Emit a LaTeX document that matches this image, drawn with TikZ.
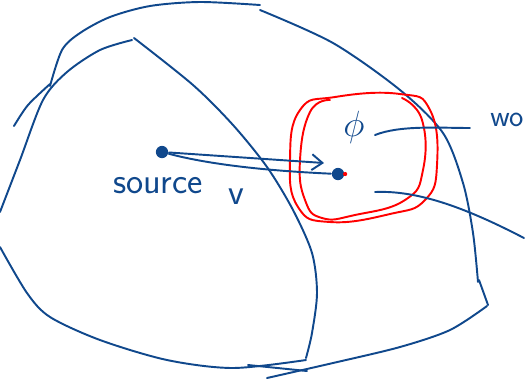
\documentclass[tikz,border=0pt]{standalone}
\usepackage{amsmath, amssymb}
\usepackage{tikz}
\usetikzlibrary{arrows, arrows.meta, positioning, calc}
\definecolor{ink}{RGB}{16,72,140}

\begin{document}
\begin{tikzpicture}[x=0.02cm, y=-0.02cm, line width=1.1pt, line cap=round, line join=round,
  pen/.style={ink},
  redpen/.style={red},
  dot/.style={circle, fill=ink, inner sep=0pt, minimum size=7pt},
  hand/.style={ink, font=\sffamily\huge}]
\useasboundingbox (0,0) rectangle (526,383);
\clip (0,0) rectangle (526,383);

% 外側の領域
\draw[pen] plot[smooth] coordinates {(14,126) (28,105) (50,84)};
\draw[pen] plot[smooth] coordinates {(50,86) (62,50) (80,33) (110,17) (150,6) (200,2) (260,5)};
\draw[pen] plot[smooth] coordinates {(260,10) (333,43) (400,90) (443,133) (463,183) (473,233) (478,282)};
\draw[pen] (479,280) -- (488,305);
\draw[pen] plot[smooth] coordinates {(487,306) (450,330) (400,347) (333,363) (267,378)};

% 内側の領域 V
\draw[pen] plot[smooth] coordinates {(0,212) (20,160) (43,100) (67,72) (100,50) (132,40)};
\draw[pen] plot[smooth] coordinates {(134,38) (193,85) (233,125) (267,167) (293,210) (312,253) (317,293) (312,333) (306,358)};
\draw[pen] plot[smooth] coordinates {(0,247) (27,293) (50,317) (100,340) (167,360) (233,368) (306,360)};
\draw[pen] (248,365) -- (307,371);

% 近傍（赤）
\draw[redpen] plot[smooth cycle, tension=0.8] coordinates {(300,110) (335,97) (400,94) (430,110) (437,165) (425,200) (390,214) (330,222) (298,207) (290,160)};
\draw[redpen] plot[smooth, tension=0.8] coordinates {(330,100) (310,112) (300,160) (305,200) (322,218) (355,215) (405,200) (423,170) (422,120) (402,98)};

% 点とベクトル
\node[dot] (src) at (162,152) {};
\node[dot] (tgt) at (338,174) {};
\fill[red] (tgt.east) circle (1.2pt);
\coordinate (tip) at (324,163);
\draw[pen, -{Straight Barb[length=6pt, width=9pt]}] (src) -- (tip);
\draw[pen] (src) .. controls (200,162) and (250,170) .. (tgt);

% ラベル
\node[hand] (srclbl) at (158,186) {source};
\node[hand] (vlbl) at (236,197) {v};
\node[hand] (philbl) at (354,127) {$\phi$};
\node[hand, font=\sffamily\LARGE, anchor=east, inner xsep=1pt] (wolbl) at (526,120) {wo};

% 引き出し線
\coordinate (wa) at (375,135);
\coordinate (wb) at (470,128);
\coordinate (wc) at (375,192);
\coordinate (wd) at (524,238);
\draw[pen] (wa) .. controls (400,125) and (440,128) .. (wb);
\draw[pen] (wc) .. controls (420,190) and (470,210) .. (wd);

\end{tikzpicture}
\end{document}
